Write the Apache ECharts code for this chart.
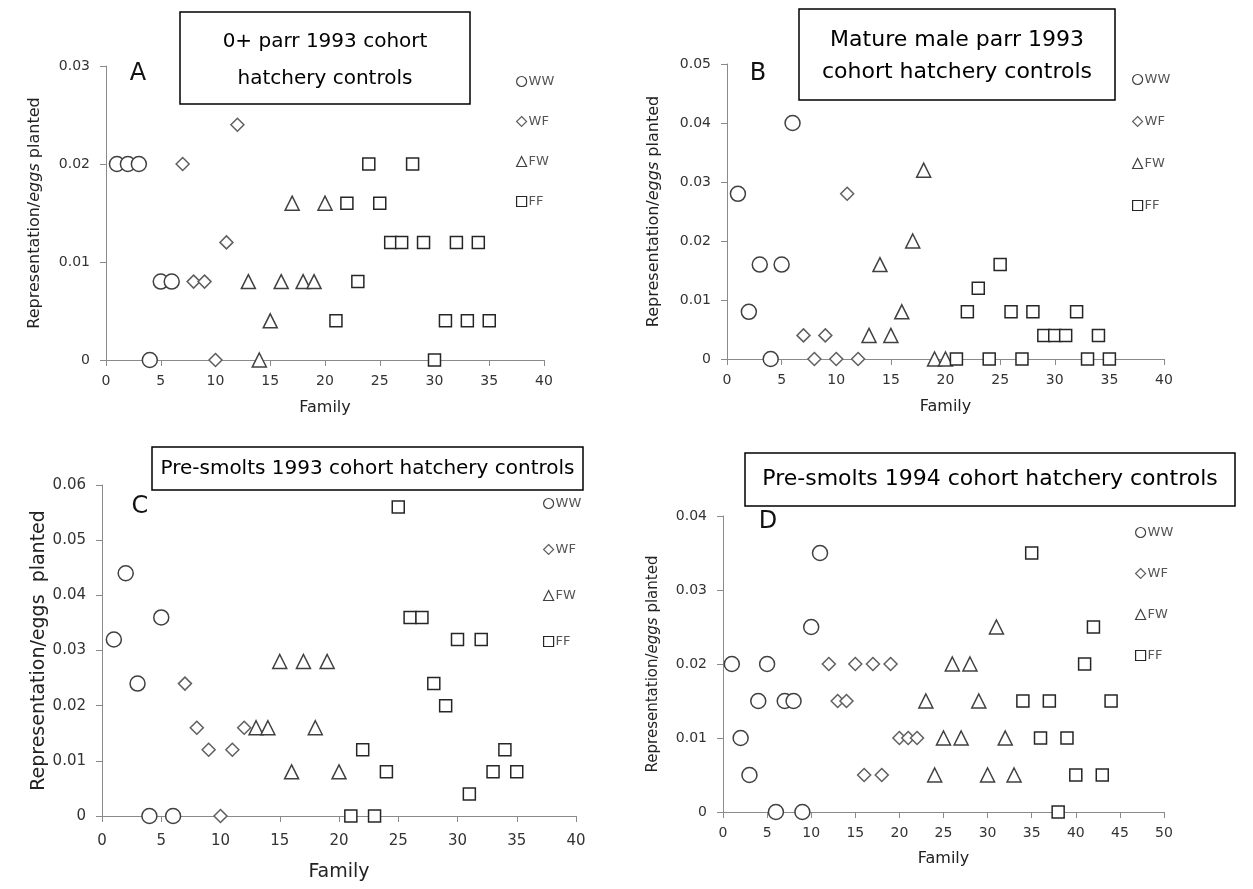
<!DOCTYPE html>
<html><head><meta charset="utf-8">
<script src="https://cdn.jsdelivr.net/npm/echarts@6/dist/echarts.min.js"></script>
<style>html,body{margin:0;padding:0;background:#fff}#c{width:1253px;height:889px}</style>
</head><body><div id="c"></div>
<script>
const groups = ['WW', 'WF', 'FW', 'FF'];
// Panel A: 0+ parr 1993 cohort
const A_WW = [[1,0.020],[2,0.020],[3,0.020],[4,0],[5,0.008],[6,0.008]];
const A_WF = [[7,0.020],[8,0.008],[9,0.008],[10,0],[11,0.012],[12,0.024]];
const A_FW = [[13,0.008],[14,0],[15,0.004],[16,0.008],[17,0.016],[18,0.008],[19,0.008],[20,0.016]];
const A_FF = [[21,0.004],[22,0.016],[23,0.008],[24,0.020],[25,0.016],[26,0.012],[27,0.012],[28,0.020],[29,0.012],[30,0],[31,0.004],[32,0.012],[33,0.004],[34,0.012],[35,0.004]];
// Panel B: Mature male parr 1993 cohort
const B_WW = [[1,0.028],[2,0.008],[3,0.016],[4,0],[5,0.016],[6,0.040]];
const B_WF = [[7,0.004],[8,0],[9,0.004],[10,0],[11,0.028],[12,0]];
const B_FW = [[13,0.004],[14,0.016],[15,0.004],[16,0.008],[17,0.020],[18,0.032],[19,0],[20,0]];
const B_FF = [[21,0],[22,0.008],[23,0.012],[24,0],[25,0.016],[26,0.008],[27,0],[28,0.008],[29,0.004],[30,0.004],[31,0.004],[32,0.008],[33,0],[34,0.004],[35,0]];
// Panel C: Pre-smolts 1993 cohort
const C_WW = [[1,0.032],[2,0.044],[3,0.024],[4,0],[5,0.036],[6,0]];
const C_WF = [[7,0.024],[8,0.016],[9,0.012],[10,0],[11,0.012],[12,0.016]];
const C_FW = [[13,0.016],[14,0.016],[15,0.028],[16,0.008],[17,0.028],[18,0.016],[19,0.028],[20,0.008]];
const C_FF = [[21,0],[22,0.012],[23,0],[24,0.008],[25,0.056],[26,0.036],[27,0.036],[28,0.024],[29,0.020],[30,0.032],[31,0.004],[32,0.032],[33,0.008],[34,0.012],[35,0.008]];
// Panel D: Pre-smolts 1994 cohort
const D_WW = [[1,0.020],[2,0.010],[3,0.005],[4,0.015],[5,0.020],[6,0],[7,0.015],[8,0.015],[9,0],[10,0.025],[11,0.035]];
const D_WF = [[12,0.020],[13,0.015],[14,0.015],[15,0.020],[16,0.005],[17,0.020],[18,0.005],[19,0.020],[20,0.010],[21,0.010],[22,0.010]];
const D_FW = [[23,0.015],[24,0.005],[25,0.010],[26,0.020],[27,0.010],[28,0.020],[29,0.015],[30,0.005],[31,0.025],[32,0.010],[33,0.005]];
const D_FF = [[34,0.015],[35,0.035],[36,0.010],[37,0.015],[38,0],[39,0.010],[40,0.005],[41,0.020],[42,0.025],[43,0.005],[44,0.015]];

const xMax = [40, 40, 40, 50];
const yMax = [0.03, 0.05, 0.06, 0.04];
const titles = [['0+ parr 1993 cohort', 'hatchery controls'], ['Mature male parr 1993', 'cohort hatchery controls'], ['Pre-smolts 1993 cohort hatchery controls'], ['Pre-smolts 1994 cohort hatchery controls']];
const letters = ['A', 'B', 'C', 'D'];
const panelData = [[A_WW, A_WF, A_FW, A_FF], [B_WW, B_WF, B_FW, B_FF], [C_WW, C_WF, C_FW, C_FF], [D_WW, D_WF, D_FW, D_FF]];

const FONT = '"DejaVu Sans", sans-serif';
const sym = {WW: 'circle', WF: 'diamond', FW: 'triangle', FF: 'rect'};
const symSize = {WW: 15, WF: 13, FW: 14, FF: 12};
const symColor = {WW: '#404040', WF: '#5f5f5f', FW: '#404040', FF: '#262626'};

const grids = [
  {left: 106, right: 1253 - 544, top: 66, bottom: 889 - 360},
  {left: 727, right: 1253 - 1164, top: 64, bottom: 889 - 359},
  {left: 102, right: 1253 - 576, top: 485, bottom: 889 - 816},
  {left: 723, right: 1253 - 1164, top: 516, bottom: 889 - 812}
];
const xLabelMargin = [14, 14, 18, 14];
const xNameGap = [40, 40, 47, 39];
const yNameGap = [63, 65, 52, 62];
const xNameSize = [16, 16, 19, 16];
const yNameSize = [16, 16, 19, 15];
const tickSize = [14, 14, 15, 14];
const legendPos = [
  {left: 516, top: 75, itemGap: 27},
  {left: 1132, top: 73, itemGap: 29},
  {left: 543, top: 497, itemGap: 33},
  {left: 1135, top: 526, itemGap: 28}
];
const boxes = [
  {x: 180, y: 12, w: 290, h: 92, fs: 20, lh: 37, off: 2.5},
  {x: 799, y: 9, w: 316, h: 91, fs: 22, lh: 32, off: 1.5},
  {x: 152, y: 447, w: 431, h: 43, fs: 20, lh: 0, off: 0},
  {x: 745, y: 453, w: 490, h: 53, fs: 22, lh: 0, off: 0}
];
const letterPos = [[138, 74], [758, 74], [140, 507], [768, 522]];

const axisColor = '#8a8a8a';
const xAxes = [], yAxes = [], series = [], legends = [], graphics = [];
for (let i = 0; i < 4; i++) {
  xAxes.push({
    gridIndex: i, type: 'value', min: 0, max: xMax[i], interval: 5,
    axisLine: {lineStyle: {color: axisColor, width: 1}},
    axisTick: {show: true, length: 6, lineStyle: {color: axisColor}},
    axisLabel: {fontSize: tickSize[i], color: '#333', margin: xLabelMargin[i], fontFamily: FONT},
    splitLine: {show: false},
    name: 'Family', nameLocation: 'middle', nameGap: xNameGap[i],
    nameTextStyle: {fontSize: xNameSize[i], color: '#222', fontFamily: FONT}
  });
  const italic = i !== 2;
  yAxes.push({
    gridIndex: i, type: 'value', min: 0, max: yMax[i], interval: 0.01,
    axisLine: {show: true, lineStyle: {color: axisColor, width: 1}},
    axisTick: {show: true, length: 6, lineStyle: {color: axisColor}},
    axisLabel: {fontSize: tickSize[i], color: '#333', margin: 16, fontFamily: FONT,
      formatter: v => v === 0 ? '0' : v.toFixed(2)},
    splitLine: {show: false},
    name: italic ? '{a|Representation/}{b|eggs}{a| planted}' : '{a|Representation/eggs  planted}',
    nameLocation: 'middle', nameGap: yNameGap[i],
    nameTextStyle: {color: '#222', fontFamily: FONT, fontSize: yNameSize[i],
      rich: {a: {fontSize: yNameSize[i], color: '#222', fontFamily: FONT},
             b: {fontSize: yNameSize[i], color: '#222', fontFamily: FONT, fontStyle: 'italic'}}}
  });
  groups.forEach((g, k) => {
    series.push({
      type: 'scatter', name: g, xAxisIndex: i, yAxisIndex: i,
      data: panelData[i][k], symbol: sym[g], symbolSize: symSize[g],
      itemStyle: {color: '#fff', borderColor: symColor[g], borderWidth: 1.5, opacity: 1},
      emphasis: {disabled: true}, z: 3
    });
  });
  legends.push({
    orient: 'vertical', left: legendPos[i].left, top: legendPos[i].top, itemGap: legendPos[i].itemGap,
    padding: 0, itemWidth: 10, itemHeight: 10, selectedMode: false,
    textStyle: {fontSize: 13, color: '#555', fontFamily: FONT, padding: [0, 0, 0, -3]},
    data: groups.map(g => ({name: g, icon: sym[g]})),
    itemStyle: {color: '#fff', borderWidth: 1.2}
  });
  const b = boxes[i];
  graphics.push({type: 'rect', shape: {x: b.x, y: b.y, width: b.w, height: b.h},
    style: {fill: '#fff', stroke: '#000', lineWidth: 1.5}, z: 10});
  const lines = titles[i];
  lines.forEach((t, j) => {
    graphics.push({type: 'text', x: b.x + b.w / 2, y: b.y + b.h / 2 + b.off + (j - (lines.length - 1) / 2) * b.lh,
      style: {text: t, fontSize: b.fs, fontFamily: FONT, fill: '#000', textAlign: 'center', textVerticalAlign: 'middle'}, z: 11});
  });
  graphics.push({type: 'text', x: letterPos[i][0], y: letterPos[i][1],
    style: {text: letters[i], fontSize: 24, fontFamily: FONT, fill: '#111', textAlign: 'center', textVerticalAlign: 'middle'}, z: 11});
}

const chart = echarts.init(document.getElementById('c'), null, {renderer: 'canvas'});
chart.setOption({
  animation: false,
  backgroundColor: '#fff',
  grid: grids,
  xAxis: xAxes,
  yAxis: yAxes,
  legend: legends,
  series: series,
  graphic: graphics
});
</script>
</body></html>
